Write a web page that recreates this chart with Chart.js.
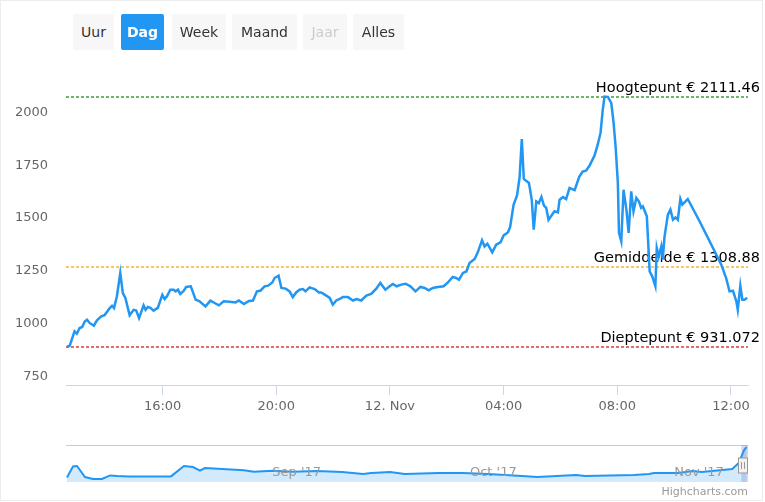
<!DOCTYPE html>
<html>
<head>
<meta charset="utf-8">
<script src="https://cdn.jsdelivr.net/npm/chart.js@4.4.1/dist/chart.umd.min.js"></script>
<style>
  body { margin: 0; background: #fff; font-family: "DejaVu Sans", sans-serif; }
  #wrap { position: relative; width: 765px; height: 502px; overflow: hidden; }
  .frame { position: absolute; left: 0; top: 0; width: 761px; height: 499px; border: 1px solid #ececec; }
  #myChart-Main { position: absolute; left: 0; top: 0; }
  #myChart-Nav { position: absolute; left: 0; top: 440px; }
  .btn { position: absolute; top: 14px; height: 36px; line-height: 36px; background: #f7f7f7; color: #333;
         font-size: 14px; text-align: center; border-radius: 2px; z-index: 2; }
  .btn.active { background: #2196f3; color: #fff; font-weight: bold; }
  .btn.disabled { color: #cccccc; }
</style>
</head>
<body>
<div id="wrap">
  <div class="frame"></div>
  <canvas id="myChart-Main" width="765" height="420"></canvas>
  <canvas id="myChart-Nav" width="765" height="62"></canvas>
  <div id="buttons"></div>
</div>
<script>
// range selector
const buttonLabels = ['Uur', 'Dag', 'Week', 'Maand', 'Jaar', 'Alles'];
const buttonLeft = [73, 121, 172, 232, 303, 353];
const buttonWidth = [41, 43, 54, 65, 44, 51];

// main series: hours since 11 Nov 00:00, price in EUR
const times = [
  12.63, 12.73, 12.90, 12.98, 13.08, 13.17, 13.26, 13.34, 13.43, 13.58,
  13.69, 13.84, 13.96, 14.14, 14.22, 14.29, 14.39, 14.51, 14.60, 14.69,
  14.84, 14.98, 15.07, 15.17, 15.33, 15.40, 15.48, 15.57, 15.68, 15.83,
  15.99, 16.07, 16.15, 16.27, 16.39, 16.46, 16.54, 16.62, 16.74, 16.83,
  16.99, 17.07, 17.16, 17.30, 17.51, 17.68, 17.83, 17.98, 18.15, 18.36,
  18.57, 18.68, 18.86, 19.04, 19.18, 19.32, 19.44, 19.59, 19.71, 19.86,
  19.94, 20.08, 20.18, 20.33, 20.47, 20.58, 20.70, 20.82, 20.94, 21.03,
  21.17, 21.35, 21.50, 21.58, 21.76, 21.88, 21.99, 22.11, 22.23, 22.34,
  22.52, 22.70, 22.82, 22.99, 23.17, 23.34, 23.52, 23.66, 23.84, 23.99,
  24.10, 24.24, 24.40, 24.55, 24.72, 24.90, 25.07, 25.22, 25.36, 25.51,
  25.69, 25.89, 26.04, 26.21, 26.33, 26.43, 26.57, 26.69, 26.80, 26.98,
  27.09, 27.24, 27.33, 27.43, 27.60, 27.74, 27.89, 28.00, 28.15, 28.23,
  28.35, 28.47, 28.56, 28.64, 28.71, 28.89, 28.99, 29.06, 29.15, 29.24,
  29.33, 29.42, 29.50, 29.58, 29.68, 29.79, 29.91, 29.97, 30.09, 30.20,
  30.32, 30.50, 30.66, 30.78, 30.90, 31.02, 31.20, 31.32, 31.41, 31.49,
  31.55, 31.67, 31.79, 31.87, 31.94, 32.02, 32.06, 32.14, 32.22, 32.32,
  32.40, 32.49, 32.57, 32.67, 32.76, 32.84, 32.90, 33.04, 33.14, 33.23,
  33.34, 33.39, 33.46, 33.55, 33.60, 33.66, 33.78, 33.87, 33.96, 34.05,
  34.13, 34.22, 34.29, 34.40, 34.48, 34.90, 35.31, 35.66, 35.83, 35.95,
  36.07, 36.19, 36.24, 36.33, 36.40, 36.48, 36.57
];
const prices = [
  931.072, 935, 1003, 992, 1019, 1024, 1050, 1058, 1043, 1030,
  1055, 1074, 1080, 1113, 1124, 1113, 1168, 1279, 1184, 1161,
  1079, 1105, 1102, 1066, 1126, 1105, 1118, 1114, 1101, 1114,
  1176, 1156, 1168, 1200, 1200, 1192, 1200, 1180, 1194, 1213,
  1216, 1187, 1153, 1145, 1121, 1148, 1137, 1126, 1145, 1143,
  1140, 1149, 1132, 1147, 1149, 1192, 1195, 1216, 1219, 1234,
  1255, 1266, 1208, 1205, 1192, 1165, 1187, 1200, 1203, 1192,
  1211, 1203, 1187, 1187, 1172, 1161, 1129, 1149, 1156, 1165,
  1165, 1149, 1156, 1149, 1172, 1180, 1205, 1232, 1200, 1216,
  1227, 1216, 1224, 1228, 1216, 1192, 1213, 1208, 1197, 1208,
  1213, 1216, 1234, 1260, 1255, 1247, 1279, 1286, 1326, 1345,
  1376, 1433, 1404, 1417, 1376, 1412, 1423, 1456, 1470, 1496,
  1601, 1644, 1727, 1911, 1723, 1704, 1625, 1483, 1617, 1609,
  1638, 1597, 1586, 1530, 1549, 1570, 1565, 1625, 1637, 1628,
  1680, 1670, 1733, 1757, 1762, 1785, 1833, 1889, 1940, 2050,
  2111.46, 2110, 2081, 1987, 1877, 1704, 1468, 1428, 1672, 1578,
  1468, 1664, 1570, 1633, 1617, 1586, 1593, 1546, 1286, 1263,
  1216, 1397, 1357, 1404, 1342, 1447, 1554, 1578, 1530, 1541,
  1530, 1628, 1601, 1617, 1628, 1522, 1412, 1318, 1255, 1192,
  1195, 1145, 1105, 1219, 1153, 1153, 1162
];

const xTickValues = [16, 20, 24, 28, 32, 36];
const xTickLabels = ['16:00', '20:00', '12. Nov', '04:00', '08:00', '12:00'];
const yTickValues = [750, 1000, 1250, 1500, 1750, 2000];

const plotLineValues = [2111.46, 1308.88, 931.072];
const plotLineNames = ['Hoogtepunt', 'Gemiddelde', 'Dieptepunt'];
const plotLineColors = ['#3f9a3f', '#f2b33d', '#dd3c3c'];

// navigator series: days since 1 Aug 2017
const navDays = [
  0.15, 1.06, 1.67, 2.88, 4.1, 5.46, 6.68, 7.74, 9.56, 12.14,
  15.93, 17.9, 19.27, 20.33, 21.09, 27.0, 28.5, 31.4, 34.4, 38.1,
  41.9, 45.1, 46.3, 49.2, 51.4, 56.6, 60.2, 64.0, 69.2, 71.5,
  77.4, 78.8, 86.2, 88.5, 89.2, 92.9, 95.1, 96.5, 101.1, 102.1,
  102.9, 103.3
];
const navValues = [
  230, 780, 800, 250, 150, 150, 330, 300, 280, 280,
  280, 800, 750, 565, 700, 585, 515, 565, 515, 550,
  500, 400, 450, 500, 400, 450, 450, 400, 300, 250,
  350, 300, 350, 400, 450, 450, 550, 500, 650, 950,
  1600, 1750
];
const navTickDays = [31, 61, 92];
const navTickLabels = ["Sep '17", "Oct '17", "Nov '17"];

const font = '"DejaVu Sans", sans-serif';

// buttons
const btnBox = document.getElementById('buttons');
buttonLabels.forEach((label, i) => {
  const b = document.createElement('div');
  b.className = 'btn' + (label === 'Dag' ? ' active' : '') + (label === 'Jaar' ? ' disabled' : '');
  b.style.left = buttonLeft[i] + 'px';
  b.style.width = buttonWidth[i] + 'px';
  b.textContent = label;
  btnBox.appendChild(b);
});

const plotLinesPlugin = {
  id: 'plotLines',
  beforeDatasetsDraw(chart) {
    const { ctx, chartArea, scales: { y } } = chart;
    ctx.save();
    plotLineValues.forEach((v, i) => {
      const py = Math.round(y.getPixelForValue(v));
      ctx.strokeStyle = plotLineColors[i];
      ctx.lineWidth = 1.5;
      ctx.setLineDash([3, 2]);
      ctx.beginPath();
      ctx.moveTo(chartArea.left, py);
      ctx.lineTo(chartArea.right, py);
      ctx.stroke();
      ctx.setLineDash([]);
      ctx.fillStyle = '#000';
      ctx.font = '14.5px ' + font;
      ctx.textAlign = 'right';
      ctx.textBaseline = 'alphabetic';
      ctx.fillText(plotLineNames[i] + ' € ' + v, 760, py - 5);
    });
    ctx.restore();
  }
};

const mainChart = document.getElementById('myChart-Main');

new Chart(mainChart, {
  type: 'line',
  data: {
    datasets: [{
      data: times.map((t, i) => ({ x: t, y: prices[i] })),
      borderColor: '#2196f3',
      borderWidth: 2.5,
      pointRadius: 0,
      tension: 0,
      fill: false
    }]
  },
  options: {
    responsive: false,
    animation: false,
    layout: { padding: { top: 70, right: 17, left: 0, bottom: 0 } },
    plugins: { legend: { display: false }, tooltip: { enabled: false } },
    scales: {
      x: {
        type: 'linear',
        min: 12.6,
        max: 36.6,
        afterBuildTicks: s => { s.ticks = xTickValues.map(v => ({ value: v })); },
        afterFit: s => { s.height = 35; },
        grid: { drawOnChartArea: false, drawTicks: true, tickLength: 10, color: '#ccd6eb' },
        border: { display: true, color: '#ccd6eb' },
        ticks: {
          autoSkip: false,
          maxRotation: 0,
          padding: 4,
          color: '#666',
          font: { family: font, size: 13 },
          callback: v => xTickLabels[xTickValues.indexOf(v)]
        }
      },
      y: {
        min: 750,
        max: 2237,
        afterBuildTicks: s => { s.ticks = yTickValues.map(v => ({ value: v })); },
        afterFit: s => { s.width = 66; },
        grid: { display: false, drawTicks: false },
        border: { display: false },
        ticks: {
          padding: 18,
          labelOffset: -8,
          color: '#666',
          font: { family: font, size: 13 },
          callback: v => String(v)
        }
      }
    }
  },
  plugins: [plotLinesPlugin]
});

const navigatorPlugin = {
  id: 'navigatorExtras',
  afterDatasetsDraw(chart) {
    const { ctx, chartArea, scales: { x } } = chart;
    ctx.save();
    // outline
    ctx.strokeStyle = '#cccccc';
    ctx.lineWidth = 1;
    ctx.beginPath();
    ctx.moveTo(chartArea.left, chartArea.top + 0.5);
    ctx.lineTo(chartArea.right, chartArea.top + 0.5);
    ctx.stroke();
    // axis labels
    ctx.fillStyle = '#999';
    ctx.font = '13px ' + font;
    ctx.textAlign = 'left';
    ctx.textBaseline = 'middle';
    navTickDays.forEach((d, i) => {
      ctx.fillText(navTickLabels[i], x.getPixelForValue(d) + 2, chartArea.top + 28);
    });
    // selected range mask
    const mx = x.getPixelForValue(102.5);
    ctx.fillStyle = 'rgba(102,133,194,0.3)';
    ctx.fillRect(mx, chartArea.top, chartArea.right - mx, chartArea.bottom - chartArea.top);
    // handle
    const hx = Math.round(mx + 1.5);
    const hy = chartArea.top + 13;
    ctx.fillStyle = '#f2f2f2';
    ctx.strokeStyle = '#999';
    ctx.fillRect(hx - 4.5, hy, 9, 15);
    ctx.strokeRect(hx - 4.5, hy, 9, 15);
    ctx.beginPath();
    ctx.moveTo(hx - 1.5, hy + 4); ctx.lineTo(hx - 1.5, hy + 11);
    ctx.moveTo(hx + 1.5, hy + 4); ctx.lineTo(hx + 1.5, hy + 11);
    ctx.stroke();
    // credits
    ctx.fillStyle = '#999';
    ctx.font = '11px ' + font;
    ctx.textAlign = 'right';
    ctx.fillText('Highcharts.com', 748, 52);
    ctx.restore();
  }
};

const navChart = document.getElementById('myChart-Nav');

new Chart(navChart, {
  type: 'line',
  data: {
    datasets: [{
      data: navDays.map((d, i) => ({ x: d, y: navValues[i] })),
      borderColor: '#2196f3',
      borderWidth: 2,
      backgroundColor: 'rgba(33,150,243,0.2)',
      pointRadius: 0,
      tension: 0,
      fill: 'start'
    }]
  },
  options: {
    responsive: false,
    animation: false,
    layout: { padding: { top: 5, right: 17, left: 66, bottom: 20 } },
    plugins: { legend: { display: false }, tooltip: { enabled: false } },
    scales: {
      x: { type: 'linear', min: 0, max: 103.5, display: false },
      y: { min: 0, max: 1850, display: false }
    }
  },
  plugins: [navigatorPlugin]
});
</script>
</body>
</html>
